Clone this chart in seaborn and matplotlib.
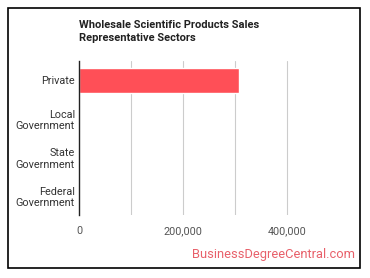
import pandas as pd
import matplotlib
matplotlib.use('Agg')
import matplotlib.pyplot as plt
import seaborn as sns
from matplotlib.patches import Rectangle
from matplotlib.ticker import FuncFormatter

# Data
sectors = ['Private', 'Local\nGovernment', 'State\nGovernment', 'Federal\nGovernment']
employment = [308000, 2000, 150, 0]
x_ticks = [0, 200000, 400000]
grid_ticks = [100000, 200000, 300000, 400000]

df = pd.DataFrame({'sector': sectors, 'employment': employment})

sns.set_theme(style='white')
plt.rcParams['font.family'] = ['Roboto', 'DejaVu Sans']

fig = plt.figure(figsize=(3.7, 2.78), dpi=100)
ax = fig.add_axes([0.2135, 0.2266, 0.7035, 0.554])

sns.barplot(data=df, y='sector', x='employment', color='#FF4F57',
            width=0.65, saturation=1, ax=ax, orient='h')

ax.set_xlim(0, 500000)
for g in grid_ticks:
    ax.axvline(g, color='#cccccc', lw=0.8, zorder=0)
ax.set_xticks(x_ticks)
ax.xaxis.set_major_formatter(FuncFormatter(lambda v, p: f'{int(v):,}'))
ax.tick_params(axis='x', length=0, labelsize=7.8, labelcolor='#555555', pad=8)
ax.tick_params(axis='y', length=0, labelsize=7.8, labelcolor='#333333', pad=3)
for lab in ax.get_yticklabels():
    lab.set_horizontalalignment('right')
    lab.set_multialignment('right')
ax.set_xlabel('')
ax.set_ylabel('')
for s in ['top', 'right', 'bottom']:
    ax.spines[s].set_visible(False)
ax.spines['left'].set_color('#222222')
ax.spines['left'].set_linewidth(1)

fig.text(0.2135, 0.927, 'Wholesale Scientific Products Sales\nRepresentative Sectors',
         fontsize=8.0, fontweight='bold', color='#222222', va='top', ha='left',
         linespacing=1.35)
fig.text(0.96, 0.083, 'BusinessDegreeCentral.com', fontsize=9.3,
         color='#E8606A', ha='right', va='center')

fig.add_artist(Rectangle((0.0216, 0.036), 0.951, 0.935, transform=fig.transFigure,
                         fill=False, edgecolor='black', lw=1.2))

plt.savefig('out.png', dpi=100)
plt.close('all')
